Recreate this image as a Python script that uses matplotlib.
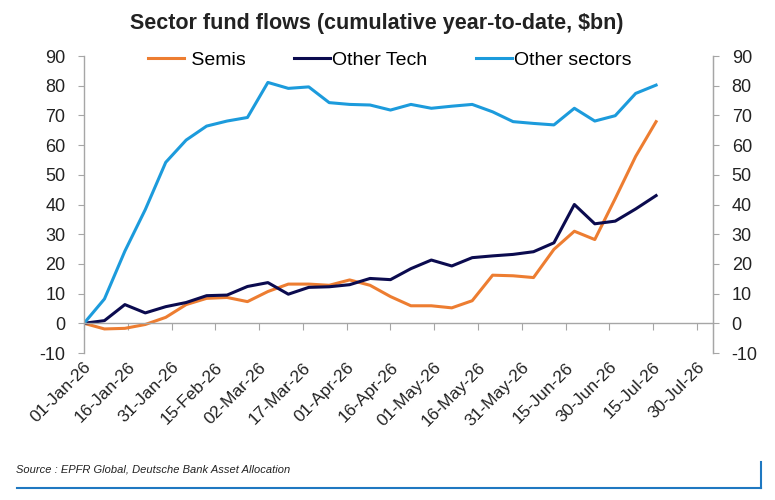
import pandas as pd
import matplotlib.pyplot as plt
import matplotlib.dates as mdates
import matplotlib.transforms as mtransforms
from matplotlib.lines import Line2D

plt.rcParams['font.family'] = ['Liberation Sans', 'DejaVu Sans']
plt.rcParams['axes.unicode_minus'] = False

# weekly dates, cumulative flows ($bn)
dates = pd.date_range('2026-01-01', periods=29, freq='7D')
semis = [0, -1.9, -1.7, -0.4, 2.0, 6.3, 8.4, 8.7, 7.3, 10.7, 13.2, 13.2, 12.8, 14.6, 12.8,
         9.0, 5.9, 5.9, 5.2, 7.6, 16.2, 16.0, 15.4, 24.9, 31.0, 28.2, 42.0, 56.2, 67.9]
other_tech = [0, 0.9, 6.3, 3.5, 5.6, 7.0, 9.3, 9.5, 12.4, 13.7, 9.8, 12.1, 12.3, 13.0, 15.1,
              14.7, 18.4, 21.3, 19.3, 22.1, 22.7, 23.2, 24.1, 27.1, 40.0, 33.5, 34.4, 38.5, 43.0]
other_sectors = [0, 8.2, 24.3, 38.3, 54.2, 61.7, 66.4, 68.1, 69.3, 81.1, 79.1, 79.6, 74.3, 73.7, 73.5,
                 71.8, 73.7, 72.4, 73.1, 73.7, 71.2, 67.9, 67.3, 66.8, 72.4, 68.1, 69.9, 77.4, 80.2]
tick_dates = pd.date_range('2026-01-01', '2026-07-30', freq='15D')
yticks = list(range(-10, 100, 10))

fig = plt.figure(figsize=(7.75, 5), dpi=100)
ax1 = fig.add_axes([0.1084, 0.294, 0.8116, 0.594])

ax1.plot(dates, semis, color='#ED7D31', linewidth=2.2, label=' Semis')
ax1.plot(dates, other_tech, color='#0B0B4F', linewidth=2.2, label='Other Tech')
ax1.plot(dates, other_sectors, color='#1C9BDC', linewidth=2.2, label='Other sectors')

ax1.set_ylim(-10, 90)
ax1.set_xlim(pd.Timestamp('2026-01-01'), pd.Timestamp('2026-08-04 12:00'))
ax1.set_yticks(yticks)
ax1.set_xticks(tick_dates)
ax1.xaxis.set_major_formatter(mdates.DateFormatter('%d-%b-%y'))

grey = '#A6A6A6'
ax1.spines['top'].set_visible(False)
ax1.spines['bottom'].set_position(('data', 0))
for s in ['left', 'right', 'bottom']:
    ax1.spines[s].set_color(grey)
    ax1.spines[s].set_linewidth(1.0)

ax1.tick_params(axis='y', direction='out', length=4.5, color=grey, labelsize=13, pad=9,
                labelcolor='#222222')
ax1.tick_params(axis='x', direction='out', length=5, color=grey, labelsize=12.5, pad=25,
                labelcolor='#222222')
shift = mtransforms.ScaledTranslation(5 / 100, 0, fig.dpi_scale_trans)
for lab in ax1.get_xticklabels():
    lab.set_rotation(45)
    lab.set_ha('right')
    lab.set_va('center')
    lab.set_rotation_mode('anchor')
    lab.set_transform(lab.get_transform() + shift)

ax2 = ax1.twinx()
ax2.set_ylim(-10, 90)
ax2.set_yticks(yticks)
ax2.spines['top'].set_visible(False)
ax2.spines['left'].set_visible(False)
ax2.spines['bottom'].set_visible(False)
ax2.spines['right'].set_color(grey)
ax2.tick_params(axis='y', direction='out', length=4.5, color=grey, labelsize=13, pad=9,
                labelcolor='#222222')

ax1.legend(loc='center', bbox_to_anchor=(0.4857, 0.985), ncol=3, frameon=False,
           fontsize=14, handlelength=1.85, handletextpad=0.1, columnspacing=2.5)

fig.text(0.486, 0.952, 'Sector fund flows (cumulative year-to-date, $bn)',
         ha='center', va='center', fontsize=15.5, fontweight='bold', color='#222222')
fig.text(0.021, 0.06, 'Source : EPFR Global, Deutsche Bank Asset Allocation',
         ha='left', va='center', fontsize=8, style='italic', color='#222222')

blue = '#1F78C1'
fig.add_artist(Line2D([0.022, 0.982], [0.024, 0.024], color=blue, linewidth=1.5,
                      transform=fig.transFigure))
fig.add_artist(Line2D([0.982, 0.982], [0.024, 0.076], color=blue, linewidth=1.5,
                      transform=fig.transFigure))

fig.savefig('out.png', dpi=100)
